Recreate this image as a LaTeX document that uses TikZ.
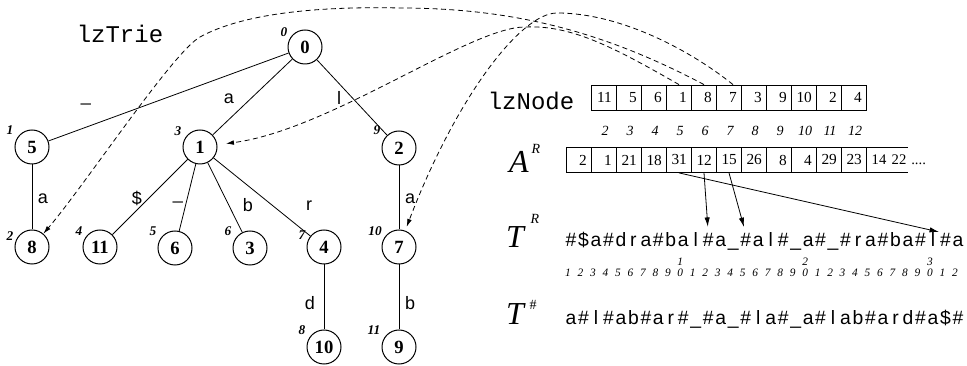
\documentclass[tikz,border=0pt]{standalone}
\usepackage{fontspec}
\setmainfont{Liberation Serif}
\setsansfont{Liberation Sans}
\setmonofont{Liberation Mono}
\usetikzlibrary{arrows.meta}
\newcommand\fsz[1]{\fontsize{#1}{#1}\selectfont}

\begin{document}
\begin{tikzpicture}[x=0.75pt,y=-0.75pt,
  trienode/.style={circle,draw,line width=0.75pt,minimum size=25.5pt,inner sep=0pt,font=\fsz{14}\bfseries},
  nodeid/.style={font=\fsz{10}\bfseries\itshape,inner sep=0pt},
  edgelab/.style={font=\sffamily\fsz{13.5},inner sep=0pt},
  treeedge/.style={line width=0.6pt},
  cell/.style={draw,line width=0.6pt,minimum width=18.75pt,minimum height=18.75pt,
    inner ysep=0pt,inner xsep=3.5pt,text width=11.75pt,align=right,font=\fsz{11.5}},
  celltxt/.style={inner sep=0pt,font=\fsz{11}},
  idx/.style={font=\fsz{10.5}\itshape,inner sep=0pt},
  mono/.style={font=\ttfamily\fsz{18},inner sep=0pt,anchor=base},
  strchar/.style={font=\sffamily\fsz{14.5},inner sep=0pt,anchor=base,text height=10pt,text depth=2.5pt},
  posdigit/.style={font=\fsz{8.5}\itshape,inner sep=0pt,anchor=base},
  biglab/.style={font=\fsz{24}\itshape,inner sep=0pt,anchor=base},
  suplab/.style={font=\fsz{10.5}\itshape,inner sep=0pt},
  ptr/.style={line width=0.6pt,dash pattern=on 3.75pt off 2.6pt,-{Latex[length=6pt,width=3.5pt]}},
  sptr/.style={line width=0.6pt,-{Latex[length=7pt,width=4pt]},shorten >=5pt}
]
\path[use as bounding box] (0,0) rectangle (967,366);

% ---- the trie ----
\node[mono] (lbltrie) at (120,43) {lzTrie};

\node[trienode] (n0)  at (305,47)  {0};
\node[trienode] (n5)  at (32,147)  {5};
\node[trienode] (n1)  at (200,147) {1};
\node[trienode] (n2)  at (399,148) {2};
\node[trienode] (n8)  at (32,247)  {8};
\node[trienode] (n11) at (100,247) {11};
\node[trienode] (n6)  at (175,248) {6};
\node[trienode] (n3)  at (250,248) {3};
\node[trienode] (n4)  at (324,247) {4};
\node[trienode] (n7)  at (399,247) {7};
\node[trienode] (n10) at (324,347) {10};
\node[trienode] (n9)  at (399,347) {9};

\draw[treeedge] (n0) -- (n5);
\draw[treeedge] (n0) -- (n1);
\draw[treeedge] (n0) -- (n2);
\draw[treeedge] (n5) -- (n8);
\draw[treeedge] (n1) -- (n11);
\draw[treeedge] (n1) -- (n6);
\draw[treeedge] (n1) -- (n3);
\draw[treeedge] (n1) -- (n4);
\draw[treeedge] (n2) -- (n7);
\draw[treeedge] (n4) -- (n10);
\draw[treeedge] (n7) -- (n9);

% edge symbols
\node[edgelab,anchor=base] (e05)  at (86,102)  {\_};
\node[edgelab] (e01)  at (229,99)  {a};
\node[edgelab] (e02)  at (339,98)  {l};
\node[edgelab] (e58)  at (43,199)  {a};
\node[edgelab] (e111) at (137,198) {\$};
\node[edgelab,anchor=base] (e16) at (178,200) {\_};
\node[edgelab] (e13)  at (248,205) {b};
\node[edgelab] (e14)  at (309,206) {r};
\node[edgelab] (e27)  at (410,199) {a};
\node[edgelab] (e410) at (310,303) {d};
\node[edgelab] (e79)  at (410,303) {b};

% phrase numbers beside the nodes
\node[nodeid] (i0)  at (284,32)  {0};
\node[nodeid] (i5)  at (10,130)  {1};
\node[nodeid] (i1)  at (178,131) {3};
\node[nodeid] (i2)  at (377,130) {9};
\node[nodeid] (i8)  at (10,236)  {2};
\node[nodeid] (i11) at (79,231)  {4};
\node[nodeid] (i6)  at (153,231) {5};
\node[nodeid] (i3)  at (228,231) {6};
\node[nodeid] (i4)  at (302,235) {7};
\node[nodeid] (i7)  at (375,231) {10};
\node[nodeid] (i10) at (302,330) {8};
\node[nodeid] (i9)  at (374,330) {11};

% ---- lzNode array ----
\node[mono] (lblnode) at (531,110) {lzNode};
\foreach \v [count=\i from 2] in {11,5,6,1,8,7,3,9,10,2,4}
  \node[cell] (lz\i) at ({579+25*(\i-1)},97.5) {\v};
\foreach \i in {2,...,12}
  \node[idx] (ix\i) at ({580+25*(\i-1)},131) {\i};

% ---- A^R array ----
\node[biglab] (lblA) at (519,173) {A};
\node[suplab] (lblAR) at (536,149) {R};
\foreach \v [count=\i] in {2,1,21,18,31,12,15,26,8,4,29,23}
  \node[cell] (ar\i) at ({579+25*(\i-1)},160) {\v};
\draw[line width=0.6pt] (ar12.north east) -- ++(41.5,0);
\draw[line width=0.6pt] (ar12.south east) -- ++(41.5,0);
\node[celltxt] (ar13) at (879,160) {14};
\node[celltxt] (ar14) at (899,160) {22};
\node[celltxt,anchor=base west] (ardots) at (911,165) {....};

% ---- T^R string ----
\node[biglab] (lblT) at (515,248) {T};
\node[suplab] (lblTR) at (535,219) {R};
\foreach \c [count=\i] in {\#,\$,a,\#,d,r,a,\#,b,a,l,\#,a,\_,\#,a,l,\#,\_,a,\#,\_,\#,r,a,\#,b,a,\#,l,\#,a}
  \node[strchar] (tr\i) at ({571+12.48*(\i-1)},247) {\c};
\foreach \i in {1,...,32}{
  \pgfmathtruncatemacro\dg{mod(\i,10)}
  \node[posdigit] (pd\i) at ({568+12.48*(\i-1)},277) {\dg};
}
\foreach \i/\t in {10/1,20/2,30/3}
  \node[posdigit] (pt\t) at ({568+12.48*(\i-1)},266) {\t};

% ---- T^# string ----
\node[biglab] (lblTh) at (515,325) {T};
\node[suplab,font=\fsz{10.5}] (lblTH) at (533,305) {\#};
\foreach \c [count=\i] in {a,\#,l,\#,a,b,\#,a,r,\#,\_,\#,a,\_,\#,l,a,\#,\_,a,\#,l,a,b,\#,a,r,d,\#,a,\$,\#}
  \node[strchar] (th\i) at ({571+12.48*(\i-1)},325) {\c};

% ---- suffix pointers ----
\draw[sptr] (ar5.south) -- (tr31.north);
\draw[sptr] (ar6.south) -- (tr12.north);
\draw[sptr] (ar7.south) -- (tr15.north);

% ---- lzNode pointers into the trie ----
\draw[ptr,shorten >=6.5pt] (lz5.north) .. controls (610,45) and (570,25) .. (525,27)
  .. controls (470,27) and (330,130) .. (n1);
\draw[ptr] (lz6.north) .. controls (610,35) and (520,8) .. (400,8)
  .. controls (310,6) and (240,15) .. (200,37)
  .. controls (173,52) and (85,185) .. (n8);
\draw[ptr,shorten >=3pt] ([xshift=3pt]lz7.north) .. controls (690,50) and (620,13) .. (557,13)
  .. controls (520,13) and (455,100) .. (n7);
\end{tikzpicture}
\end{document}
